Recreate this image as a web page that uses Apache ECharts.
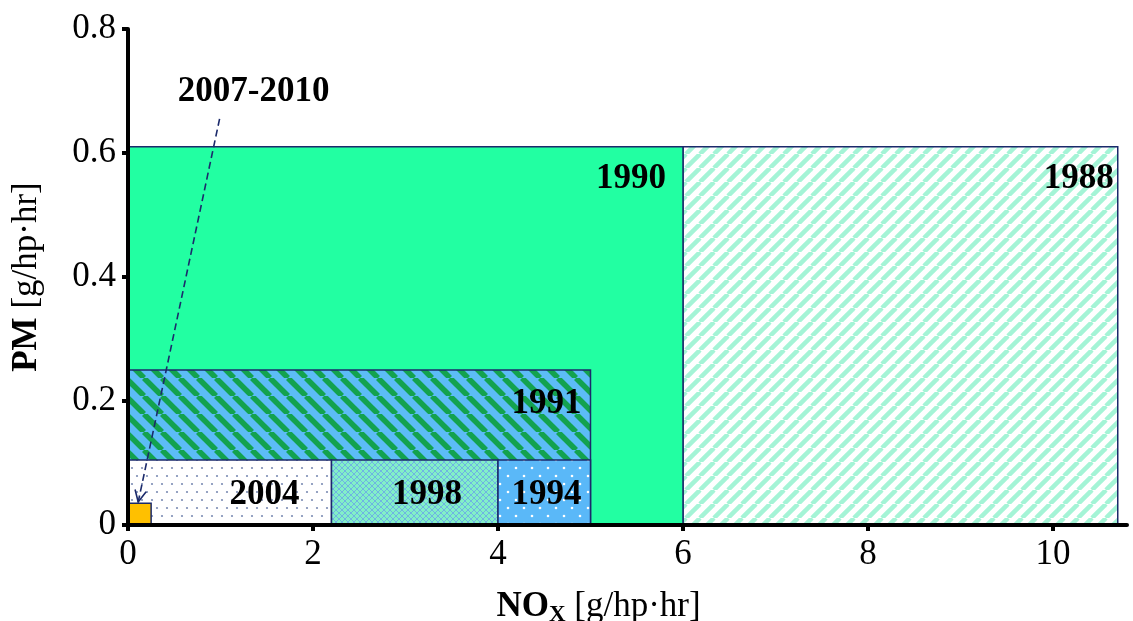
<!DOCTYPE html>
<html><head><meta charset="utf-8">
<script src="https://cdn.jsdelivr.net/npm/echarts@6/dist/echarts.min.js"></script>
<style>html,body{margin:0;padding:0;background:#fff}#c{width:1133px;height:621px}</style>
</head><body><div id="c"></div>
<script>
// ---- data (drawing order: back to front) ----
const standardYears = ['1988', '1990', '1991', '2004', '1998', '1994', '2007-2010'];
const noxFrom = [6.0, 0, 0, 0, 2.2, 4.0, 0];
const noxTo = [10.7, 6.0, 5.0, 2.2, 4.0, 5.0, 0.25];
const pmLimit = [0.61, 0.61, 0.25, 0.105, 0.105, 0.105, 0.035];
const xTickValues = [0, 2, 4, 6, 8, 10];
const yTickValues = [0, 0.2, 0.4, 0.6, 0.8];
const calloutStart = [0.99, 0.655];
const calloutEnd = [0.11, 0.037];
const calloutText = '2007-2010';

// ---- styling ----
const FONT = '"Liberation Serif", "Times New Roman", serif';
function tile(w, h, draw) {
  const c = document.createElement('canvas'); c.width = w; c.height = h;
  const g = c.getContext('2d'); draw(g, w, h); return { image: c, repeat: 'repeat' };
}
function stripes(size, bg, fg, lw, dir) {
  return tile(size, size, (g, w, h) => {
    g.fillStyle = bg; g.fillRect(0, 0, w, h);
    g.strokeStyle = fg; g.lineWidth = lw;
    for (let k = -1; k <= 1; k++) {
      g.beginPath();
      if (dir === '/') { g.moveTo(k * w, h); g.lineTo(k * w + w, 0); }
      else { g.moveTo(k * w, 0); g.lineTo(k * w + w, h); }
      g.stroke();
    }
  });
}
function dots(w, h, bg, fg, pts, r) {
  return tile(w, h, (g) => {
    g.fillStyle = bg; g.fillRect(0, 0, w, h);
    g.fillStyle = fg;
    pts.forEach(p => { g.beginPath(); g.arc(p[0], p[1], r, 0, Math.PI * 2); g.fill(); });
  });
}
const cross = tile(6, 6, (g, w, h) => {
  g.fillStyle = '#82efc8'; g.fillRect(0, 0, w, h);
  g.strokeStyle = '#6fb4e2'; g.lineWidth = 1;
  for (let k = -1; k <= 1; k++) {
    g.beginPath(); g.moveTo(k * w, h); g.lineTo(k * w + w, 0); g.stroke();
    g.beginPath(); g.moveTo(k * w, 0); g.lineTo(k * w + w, h); g.stroke();
  }
});
const fills = [
  stripes(14, '#ffffff', '#a4f4d6', 4.5, '/'),
  '#22ffa2',
  stripes(18, '#5cbcf6', '#13a24f', 5.5, '\\'),
  dots(10, 16, '#ffffff', '#7c8cb4', [[2, 4], [7, 12]], 1.1),
  cross,
  dots(16, 16, '#5ab8f8', '#ffffff', [[4, 4], [12, 12]], 1.3),
  '#ffc000'
];
const labelOffset = [[-4, 32], [-17, 32], [-9, 34], [-32, 35], [-36, 35], [-9, 35], null];
const EDGE = '#1b2a6b';

const chart = echarts.init(document.getElementById('c'));
const rectData = standardYears.map((y, i) => [noxFrom[i], noxTo[i], pmLimit[i]]);

chart.setOption({
  animation: false,
  grid: { left: 128, right: 6, top: 29, bottom: 96, containLabel: false, outerBoundsMode: 'none' },
  xAxis: {
    type: 'value', min: 0, max: 10.8, z: 10,
    name: '{b|NO}{s|X} {r|[g/hp·hr]}',
    nameLocation: 'middle', nameGap: 62,
    nameTextStyle: {
      color: '#000', fontFamily: FONT, fontSize: 35, padding: [0, 58, 0, 0],
      rich: {
        b: { fontFamily: FONT, fontSize: 35, fontWeight: 'bold', color: '#000', lineHeight: 40 },
        s: { fontFamily: FONT, fontSize: 23, fontWeight: 'bold', color: '#000', lineHeight: 22, verticalAlign: 'bottom' },
        r: { fontFamily: FONT, fontSize: 35, color: '#000', lineHeight: 40 }
      }
    },
    splitLine: { show: false },
    axisLine: { lineStyle: { color: '#000', width: 4 } },
    axisTick: { show: true, length: 6, lineStyle: { color: '#000', width: 4 }, customValues: xTickValues },
    axisLabel: { color: '#000', fontFamily: FONT, fontSize: 35, margin: 12, customValues: xTickValues }
  },
  yAxis: {
    type: 'value', min: 0, max: 0.8, interval: 0.2, z: 10,
    name: '{b|PM} {r|[g/hp·hr]}',
    nameLocation: 'middle', nameGap: 84,
    nameTextStyle: {
      color: '#000', fontFamily: FONT, fontSize: 35,
      rich: {
        b: { fontFamily: FONT, fontSize: 35, fontWeight: 'bold', color: '#000', lineHeight: 34 },
        r: { fontFamily: FONT, fontSize: 35, color: '#000', lineHeight: 34 }
      }
    },
    splitLine: { show: false },
    axisLine: { show: true, lineStyle: { color: '#000', width: 4 } },
    axisTick: { show: true, length: 6, lineStyle: { color: '#000', width: 4 }, customValues: yTickValues },
    axisLabel: { color: '#000', fontFamily: FONT, fontSize: 35, margin: 12, customValues: yTickValues }
  },
  series: [
    {
      type: 'custom', z: 2, clip: false,
      data: rectData,
      renderItem: (params, api) => {
        const i = params.dataIndex;
        const p0 = api.coord([api.value(0), 0]);
        const p1 = api.coord([api.value(1), api.value(2)]);
        const children = [{
          type: 'rect',
          shape: { x: p0[0], y: p1[1], width: p1[0] - p0[0], height: p0[1] - p1[1] },
          style: { fill: fills[i], stroke: EDGE, lineWidth: 1.5 }
        }];
        const off = labelOffset[i];
        if (off) {
          children.push({
            type: 'text',
            style: {
              text: standardYears[i], x: p1[0] + off[0], y: p1[1] + off[1],
              align: 'right', verticalAlign: 'middle',
              font: 'bold 35px ' + FONT, fill: '#000'
            }
          });
        }
        return { type: 'group', children };
      }
    },
    {
      type: 'custom', z: 5, clip: false,
      data: [[calloutStart[0], calloutStart[1], calloutEnd[0], calloutEnd[1]]],
      renderItem: (params, api) => {
        const a = api.coord([api.value(0), api.value(1)]);
        const b = api.coord([api.value(2), api.value(3)]);
        const dx = b[0] - a[0], dy = b[1] - a[1];
        const len = Math.sqrt(dx * dx + dy * dy);
        const ux = dx / len, uy = dy / len;
        const hl = 13, ang = 0.45;
        const rot = (t) => [b[0] - hl * (ux * Math.cos(t) - uy * Math.sin(t)), b[1] - hl * (ux * Math.sin(t) + uy * Math.cos(t))];
        return {
          type: 'group',
          children: [
            { type: 'line', shape: { x1: a[0], y1: a[1], x2: b[0], y2: b[1] },
              style: { stroke: EDGE, lineWidth: 1.6, lineDash: [7, 4] } },
            { type: 'polyline', shape: { points: [rot(ang), b, rot(-ang)] },
              style: { stroke: EDGE, lineWidth: 1.6, fill: null } },
            { type: 'text', style: { text: calloutText, x: a[0] + 34, y: a[1] - 27,
              align: 'center', verticalAlign: 'middle', font: 'bold 35px ' + FONT, fill: '#000' } }
          ]
        };
      }
    }
  ]
});
</script></body></html>
